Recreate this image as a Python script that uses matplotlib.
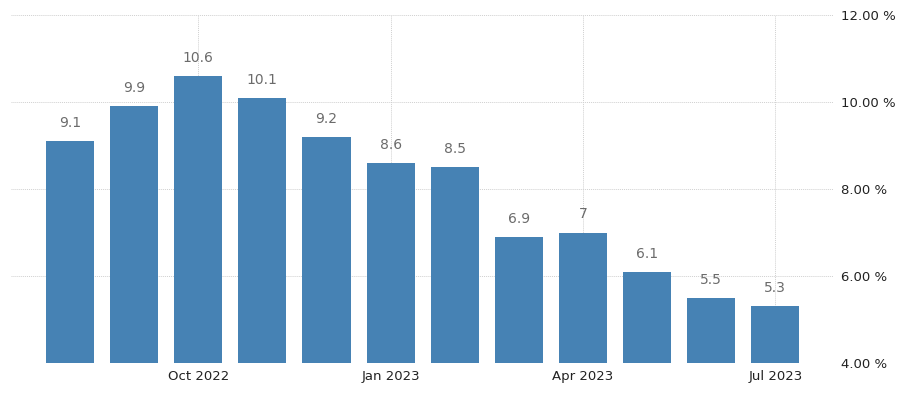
import matplotlib
matplotlib.use("Agg")
import matplotlib.pyplot as plt

months = ["Aug 2022", "Sep 2022", "Oct 2022", "Nov 2022", "Dec 2022", "Jan 2023",
          "Feb 2023", "Mar 2023", "Apr 2023", "May 2023", "Jun 2023", "Jul 2023"]
values = [9.1, 9.9, 10.6, 10.1, 9.2, 8.6, 8.5, 6.9, 7, 6.1, 5.5, 5.3]
value_labels = ["9.1", "9.9", "10.6", "10.1", "9.2", "8.6", "8.5", "6.9", "7", "6.1", "5.5", "5.3"]
tick_months = ["Oct 2022", "Jan 2023", "Apr 2023", "Jul 2023"]
y_ticks = [4, 6, 8, 10, 12]
y_tick_labels = ["4.00 %", "6.00 %", "8.00 %", "10.00 %", "12.00 %"]

plt.rcParams['font.family'] = ['DejaVu Sans']
fig = plt.figure(figsize=(9, 3.96), dpi=100)
ax = fig.add_axes([0.0122, 0.0833, 0.9134, 0.8787])

x = list(range(len(months)))
ax.bar(x, values, width=0.75, color="#4682B4", zorder=3, bottom=0)
for xi, v, lab in zip(x, values, value_labels):
    ax.annotate(lab, (xi, v), xytext=(0, 8), textcoords="offset points",
                ha="center", va="bottom", fontsize=10, color="#6b6b6b", zorder=4)

ax.set_xlim(-0.92, 11.9)
ax.set_ylim(4, 12)
ax.set_yticks(y_ticks)
ax.set_yticklabels(y_tick_labels)
ax.yaxis.tick_right()
tick_pos = [months.index(m) for m in tick_months]
ax.set_xticks(tick_pos)
ax.set_xticklabels(tick_months)
ax.tick_params(axis="both", length=0, labelsize=9.5, labelcolor="#222222")
ax.tick_params(axis="y", pad=6)
ax.tick_params(axis="x", pad=5)
for s in ax.spines.values():
    s.set_visible(False)
ax.grid(True, which="major", axis="both", color="#d0d0d0", linestyle=(0, (1, 1)), linewidth=0.7, zorder=0)
ax.set_axisbelow(True)

fig.savefig("out.png", dpi=100)
